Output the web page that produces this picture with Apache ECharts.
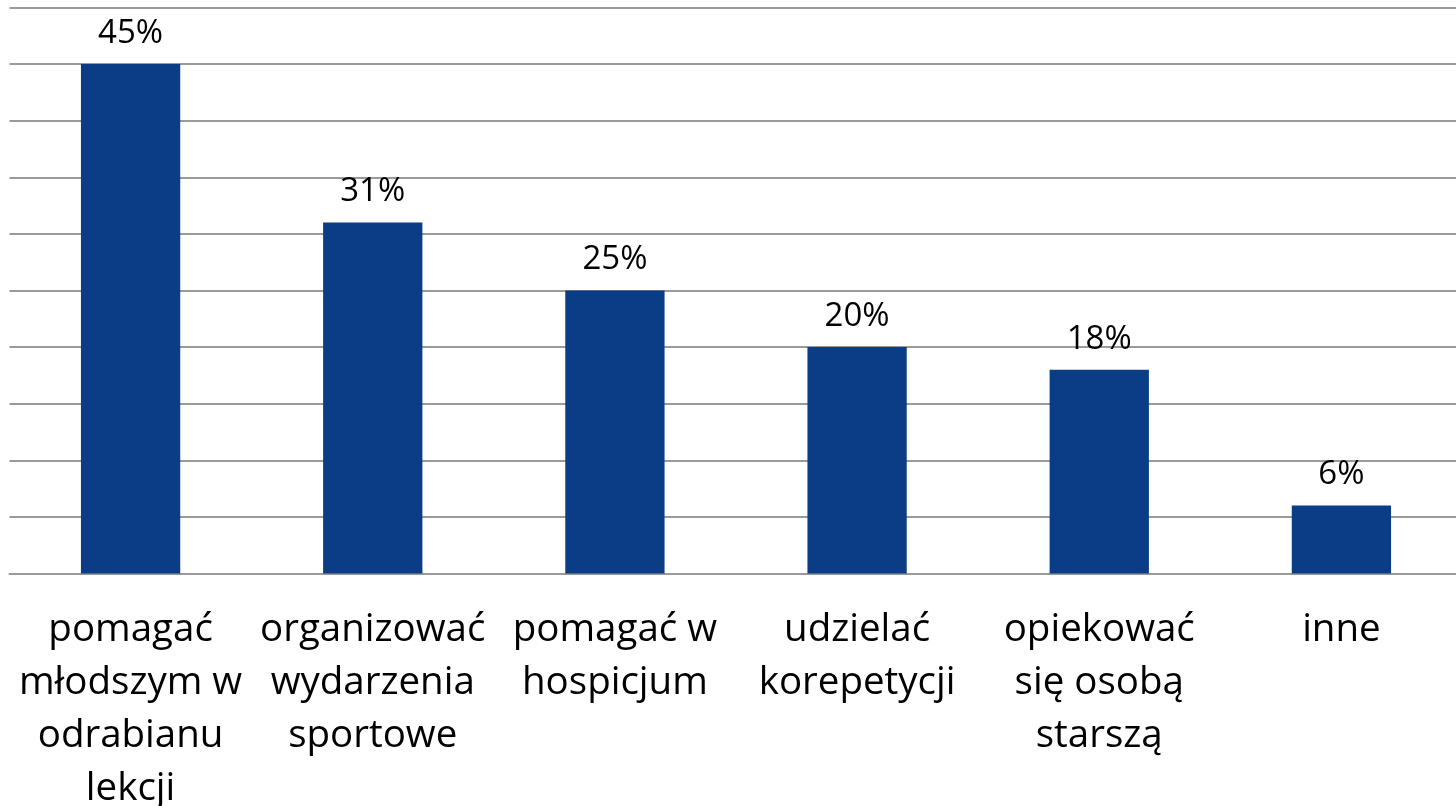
<!DOCTYPE html>
<html><head><meta charset="utf-8">
<script src="https://cdn.jsdelivr.net/npm/echarts@6/dist/echarts.min.js"></script>
<style>html,body{margin:0;padding:0;background:#fff}#c{width:1456px;height:806px}</style>
</head><body><div id="c"></div>
<script>
const categories = [
  "pomagać\nmłodszym w\nodrabianu\nlekcji",
  "organizować\nwydarzenia\nsportowe",
  "pomagać w\nhospicjum",
  "udzielać\nkorepetycji",
  "opiekować\nsię osobą\nstarszą",
  "inne"
];
const values = [45, 31, 25, 20, 18, 6];

const chart = echarts.init(document.getElementById('c'));
chart.setOption({
  animation: false,
  grid: { left: 9.5, top: 7.5, width: 1453, bottom: 232.5, containLabel: false, outerBoundsMode: 'none' },
  xAxis: {
    type: 'category', data: categories,
    axisTick: { show: false },
    axisLine: { show: true, lineStyle: { color: '#9a9a9a', width: 2 } },
    axisLabel: { interval: 0, margin: 30, fontFamily: 'Open Sans', fontSize: 38.5, lineHeight: 53, color: '#000' }
  },
  yAxis: {
    type: 'value', min: 0, max: 50, interval: 5,
    axisLabel: { show: false }, axisLine: { show: false }, axisTick: { show: false },
    splitLine: { lineStyle: { color: '#9a9a9a', width: 2 } }
  },
  series: [{
    type: 'bar', data: values, barWidth: '41%',
    itemStyle: { color: '#0B3D86' },
    label: { show: true, position: 'top', distance: 14, formatter: '{c}%', fontFamily: 'Open Sans', fontSize: 33, color: '#000' }
  }]
});
</script></body></html>
